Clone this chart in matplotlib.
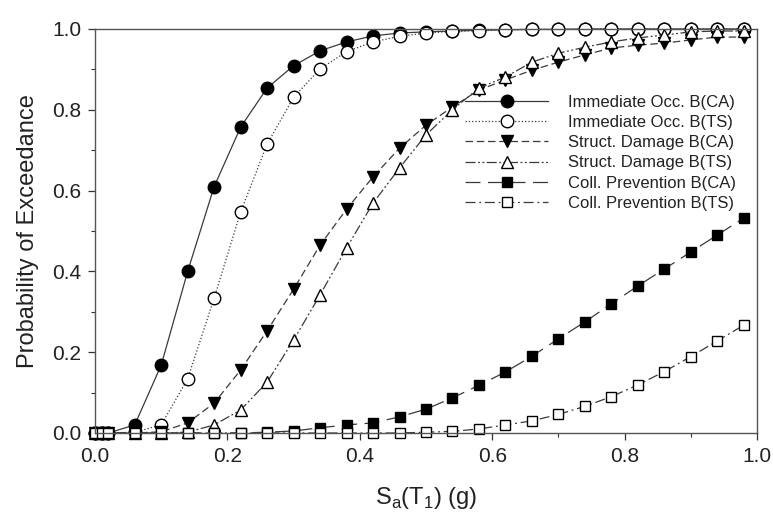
import matplotlib
matplotlib.use("Agg")
import matplotlib.pyplot as plt
from matplotlib.ticker import MultipleLocator

plt.rcParams['font.family'] = ['Liberation Sans', 'DejaVu Sans']
plt.rcParams['mathtext.fontset'] = 'custom'
plt.rcParams['mathtext.rm'] = 'Liberation Sans'

# Spectral acceleration Sa(T1) in g
sa = [0.0, 0.01, 0.02, 0.06, 0.10, 0.14, 0.18, 0.22, 0.26, 0.30, 0.34, 0.38, 0.42,
      0.46, 0.50, 0.54, 0.58, 0.62, 0.66, 0.70, 0.74, 0.78, 0.82, 0.86, 0.90, 0.94, 0.98]

# fragility curves (probability of exceedance)
io_ca = [0, 0, 0, 0.02, 0.168, 0.40, 0.61, 0.757, 0.854, 0.909, 0.946, 0.968, 0.983,
         0.99, 0.993, 0.995, 0.997, 0.998, 0.999, 0.999, 1.0, 1.0, 1.0, 1.0, 1.0, 1.0, 1.0]
io_ts = [0, 0, 0, 0.002, 0.02, 0.134, 0.334, 0.547, 0.715, 0.831, 0.901, 0.944, 0.968,
         0.982, 0.99, 0.994, 0.996, 0.998, 0.999, 0.999, 1.0, 1.0, 1.0, 1.0, 1.0, 1.0, 1.0]
sd_ca = [0, 0, 0, 0, 0.003, 0.025, 0.074, 0.156, 0.253, 0.356, 0.465, 0.554, 0.634,
         0.705, 0.762, 0.807, 0.849, 0.874, 0.898, 0.918, 0.936, 0.953, 0.960, 0.965, 0.973, 0.980, 0.980]
sd_ts = [0, 0, 0, 0, 0, 0.002, 0.02, 0.057, 0.126, 0.23, 0.342, 0.458, 0.569,
         0.656, 0.738, 0.80, 0.854, 0.881, 0.918, 0.94, 0.955, 0.968, 0.978, 0.985, 0.993, 0.995, 0.995]
cp_ca = [0, 0, 0, 0, 0, 0, 0, 0, 0.002, 0.005, 0.013, 0.02, 0.025,
         0.04, 0.059, 0.087, 0.118, 0.151, 0.19, 0.233, 0.275, 0.32, 0.364, 0.406, 0.448, 0.49, 0.532]
cp_ts = [0, 0, 0, 0, 0, 0, 0, 0, 0, 0, 0, 0, 0,
         0, 0.002, 0.004, 0.01, 0.02, 0.03, 0.046, 0.066, 0.09, 0.119, 0.152, 0.189, 0.228, 0.267]

labels = ['Immediate Occ. B(CA)', 'Immediate Occ. B(TS)', 'Struct. Damage B(CA)',
          'Struct. Damage B(TS)', 'Coll. Prevention B(CA)', 'Coll. Prevention B(TS)']

fig = plt.figure(figsize=(7.73, 5.13), dpi=100)
ax = fig.add_axes([95/773, 1-433/513, (757-95)/773, (433-29)/513])

lc = '#3a3a3a'
styles = [
    (io_ca, '-', 'o', 'k', 9),
    (io_ts, ':', 'o', 'w', 9),
    (sd_ca, (0, (6, 3)), 'v', 'k', 8.5),
    (sd_ts, (0, (8, 2, 1.5, 2, 1.5, 2)), '^', 'w', 8.5),
    (cp_ca, (0, (12, 6)), 's', 'k', 7.5),
    (cp_ts, (0, (8, 3, 1.5, 3)), 's', 'w', 7.5),
]
for (y, ls, mk, fc, ms), lab in zip(styles, labels):
    ax.plot(sa, y, linestyle=ls, color=lc, lw=0.9, marker=mk, ms=ms,
            mfc=fc, mec='k', mew=1.0, label=lab, clip_on=False)

ax.set_xlim(0, 1.0)
ax.set_ylim(0, 1.0)
ax.xaxis.set_major_locator(MultipleLocator(0.2))
ax.xaxis.set_minor_locator(MultipleLocator(0.1))
ax.yaxis.set_major_locator(MultipleLocator(0.2))
ax.yaxis.set_minor_locator(MultipleLocator(0.1))
ax.xaxis.set_major_formatter('{x:.1f}')
ax.yaxis.set_major_formatter('{x:.1f}')
ax.tick_params(which='major', direction='out', length=5, width=0.9, pad=5,
               labelsize=15, colors='#333333', labelcolor='#222222')
ax.tick_params(which='minor', direction='out', length=3, width=0.8, colors='#333333')
for s in ax.spines.values():
    s.set_color('#555555')
    s.set_linewidth(1.0)

ax.set_xlabel(r'S$_\mathregular{a}$(T$_\mathregular{1}$) (g)', fontsize=17, color='#222222', labelpad=14)
ax.set_ylabel('Probability of Exceedance', fontsize=17, color='#222222', labelpad=9)

ax.legend(loc='upper left', bbox_to_anchor=(465/773, 1-95/513), bbox_transform=fig.transFigure,
          frameon=False, fontsize=12, handlelength=5.0, handletextpad=1.2,
          labelspacing=0.31, borderpad=0, borderaxespad=0, numpoints=1,
          labelcolor='#222222')

fig.savefig('out.png', dpi=100)
